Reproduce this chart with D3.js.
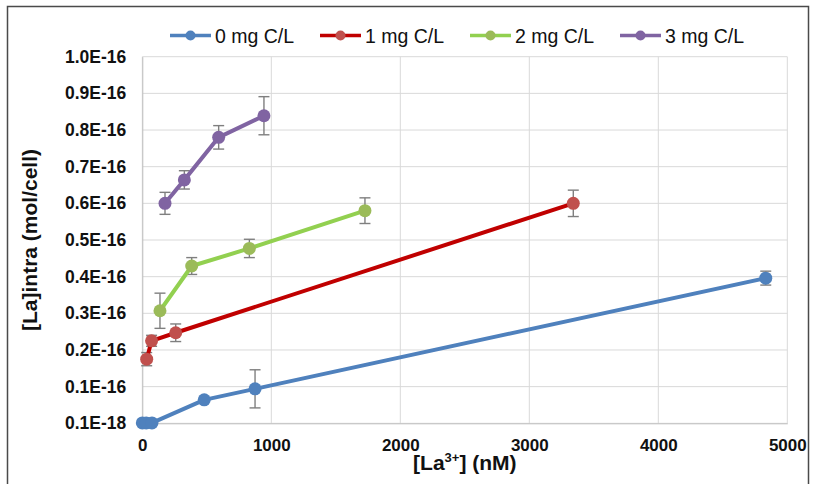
<!DOCTYPE html>
<html>
<head>
<meta charset="utf-8">
<script src="https://cdn.jsdelivr.net/npm/d3@7/dist/d3.min.js"></script>
<style>
  html, body { margin: 0; padding: 0; background: #fff; }
  svg { display: block; font-family: Arial, "Liberation Sans", sans-serif; }
</style>
</head>
<body>
<svg id="chart" width="814" height="484"></svg>
<script>
// Intracellular La vs. dissolved La3+ for four DOC levels (y in units of 1E-16 mol/cell)
const seriesNames = ["0 mg C/L", "1 mg C/L", "2 mg C/L", "3 mg C/L"];
const lineColors = ["#4f81bd", "#c00000", "#92d050", "#8064a2"];
const markerColors = ["#4f81bd", "#c0504d", "#9bbb59", "#8064a2"];

const conc0 = [0, 30, 75, 480, 874, 4833];
const laIntra0 = [0.001, 0.001, 0.001, 0.064, 0.094, 0.396];
const err0 = [0, 0, 0, 0, 0.052, 0.019];

const conc1 = [34, 72, 259, 3341];
const laIntra1 = [0.175, 0.225, 0.247, 0.600];
const err1 = [0.018, 0.015, 0.024, 0.036];

const conc2 = [137, 383, 830, 1726];
const laIntra2 = [0.307, 0.429, 0.477, 0.580];
const err2 = [0.048, 0.023, 0.025, 0.035];

const conc3 = [176, 326, 592, 943];
const laIntra3 = [0.600, 0.664, 0.780, 0.839];
const err3 = [0.030, 0.025, 0.032, 0.052];

const xTicks = [0, 1000, 2000, 3000, 4000, 5000];
const yTicks = [0, 0.1, 0.2, 0.3, 0.4, 0.5, 0.6, 0.7, 0.8, 0.9, 1.0];
const yTickLabels = ["0.1E-18", "0.1E-16", "0.2E-16", "0.3E-16", "0.4E-16", "0.5E-16",
                     "0.6E-16", "0.7E-16", "0.8E-16", "0.9E-16", "1.0E-16"];

const concs = [conc0, conc1, conc2, conc3];
const vals = [laIntra0, laIntra1, laIntra2, laIntra3];
const errs = [err0, err1, err2, err3];
const series = seriesNames.map((name, i) => ({
  name, line: lineColors[i], marker: markerColors[i],
  points: concs[i].map((c, j) => ({ x: c, y: vals[i][j], e: errs[i][j] }))
}));

const svg = d3.select("#chart");
const plot = { left: 142.3, right: 787.3, top: 56.7, bottom: 423.3 };

const x = d3.scaleLinear().domain([0, 5000]).range([plot.left, plot.right]);
const y = d3.scaleLinear().domain([0, 1.0]).range([plot.bottom, plot.top]);

// outer frame
svg.append("rect")
  .attr("x", 7.5).attr("y", 6.5).attr("width", 801).attr("height", 500)
  .attr("fill", "none").attr("stroke", "#4a4a4a").attr("stroke-width", 1.5);

// gridlines
const grid = svg.append("g");
grid.selectAll("line.h").data(yTicks).join("line")
  .attr("x1", plot.left).attr("x2", plot.right)
  .attr("y1", d => y(d)).attr("y2", d => y(d))
  .attr("stroke", "#d9d9d9").attr("stroke-width", 1);
grid.selectAll("line.v").data(xTicks).join("line")
  .attr("x1", d => x(d)).attr("x2", d => x(d))
  .attr("y1", plot.top).attr("y2", plot.bottom)
  .attr("stroke", "#d9d9d9").attr("stroke-width", 1);

// axes
const xAxis = d3.axisBottom(x).tickValues(xTicks).tickSize(0).tickPadding(16).tickFormat(d3.format("d"));
const gx = svg.append("g").attr("transform", `translate(0,${plot.bottom})`).call(xAxis);
gx.select(".domain").attr("stroke", "#bfbfbf");
gx.selectAll("text").attr("font-size", "17px").attr("font-weight", "bold").attr("fill", "#111")
  .attr("font-family", "Arial, 'Liberation Sans', sans-serif");

const yAxis = d3.axisLeft(y).tickValues(yTicks).tickSize(0).tickPadding(16)
  .tickFormat((d, i) => yTickLabels[i]);
const gy = svg.append("g").attr("transform", `translate(${plot.left},0)`).call(yAxis);
gy.select(".domain").attr("stroke", "#bfbfbf");
gy.selectAll("text").attr("font-size", "17.5px").attr("font-weight", "bold").attr("fill", "#111")
  .attr("font-family", "Arial, 'Liberation Sans', sans-serif");

// axis titles
const xt = svg.append("text")
  .attr("x", (plot.left + plot.right) / 2).attr("y", 470)
  .attr("text-anchor", "middle").attr("font-size", "21px").attr("font-weight", "bold").attr("fill", "#111");
xt.append("tspan").text("[La");
xt.append("tspan").attr("font-size", "13px").attr("dy", "-8").text("3+");
xt.append("tspan").attr("dy", "8").text("] (nM)");

svg.append("text")
  .attr("transform", `translate(37,${(plot.top + plot.bottom) / 2}) rotate(-90)`)
  .attr("text-anchor", "middle").attr("font-size", "21px").attr("font-weight", "bold").attr("fill", "#111")
  .text("[La]intra (mol/cell)");

// series
const capW = 5.5;
series.forEach(s => {
  const g = svg.append("g");
  // error bars
  const eb = g.selectAll("g.err").data(s.points.filter(p => p.e > 0)).join("g")
    .attr("stroke", "#7f7f7f").attr("stroke-width", 1.4);
  eb.append("line")
    .attr("x1", p => x(p.x)).attr("x2", p => x(p.x))
    .attr("y1", p => y(p.y + p.e)).attr("y2", p => y(p.y - p.e));
  eb.append("line")
    .attr("x1", p => x(p.x) - capW).attr("x2", p => x(p.x) + capW)
    .attr("y1", p => y(p.y + p.e)).attr("y2", p => y(p.y + p.e));
  eb.append("line")
    .attr("x1", p => x(p.x) - capW).attr("x2", p => x(p.x) + capW)
    .attr("y1", p => y(p.y - p.e)).attr("y2", p => y(p.y - p.e));
  // connecting line
  g.append("path").datum(s.points)
    .attr("d", d3.line().x(p => x(p.x)).y(p => y(p.y)))
    .attr("fill", "none").attr("stroke", s.line).attr("stroke-width", 4)
    .attr("stroke-linejoin", "round");
  // markers
  g.selectAll("circle").data(s.points).join("circle")
    .attr("cx", p => x(p.x)).attr("cy", p => y(p.y)).attr("r", 6.5)
    .attr("fill", s.marker);
});

// legend
const legendX = [170, 320, 470, 620];
const legend = svg.append("g");
series.forEach((s, i) => {
  const lg = legend.append("g").attr("transform", `translate(${legendX[i]},35.5)`);
  lg.append("line").attr("x1", 0).attr("x2", 41).attr("y1", 0).attr("y2", 0)
    .attr("stroke", s.line).attr("stroke-width", 3.5);
  lg.append("circle").attr("cx", 20.5).attr("cy", 0).attr("r", 5).attr("fill", s.marker);
  lg.append("text").attr("x", 45).attr("y", 0).attr("dy", "0.36em")
    .attr("font-size", "19.5px").attr("fill", "#111").text(s.name);
});
</script>
</body>
</html>
